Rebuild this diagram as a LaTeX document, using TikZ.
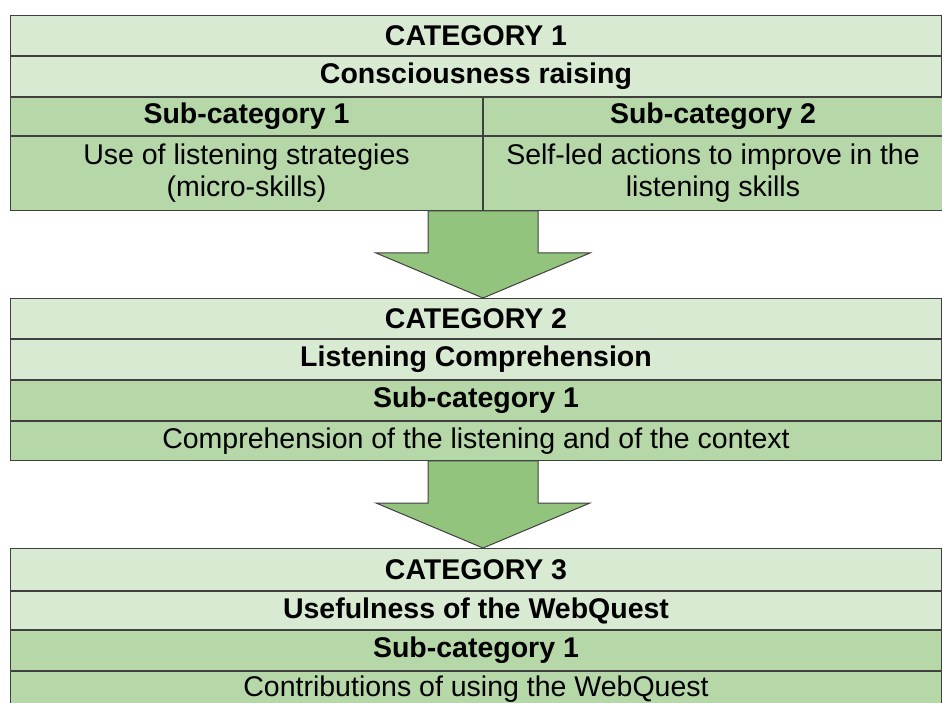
\documentclass[tikz,border=0pt]{standalone}
\usepackage{fontspec}
\setmainfont{Liberation Sans}
\usetikzlibrary{positioning,calc}
\definecolor{lightgreen}{HTML}{D9EAD3}
\definecolor{midgreen}{HTML}{B6D7A8}
\definecolor{arrowgreen}{HTML}{93C47D}
\tikzset{
  cell/.style={draw=black!75,line width=1pt,inner sep=0pt,align=center,anchor=north west,
    minimum width=931pt,font=\fontsize{28.5}{32}\selectfont},
  titlecell/.style={cell,fill=lightgreen,font=\fontsize{28.5}{32}\selectfont\bfseries},
  subcell/.style={cell,fill=midgreen,font=\fontsize{28.5}{32}\selectfont\bfseries},
  textcell/.style={cell,fill=midgreen},
  arrowbody/.style={fill=arrowgreen,draw=black!75,line width=1pt,line join=miter}
}
\newcommand\blockarrow[2]{%
  \filldraw[arrowbody] ($(#1)+(-55,0)$) -- ($(#1)+(55,0)$) -- ($(#2)+(55,45)$)
    -- ($(#2)+(107,45)$) -- (#2) -- ($(#2)+(-107,45)$) -- ($(#2)+(-55,45)$) -- cycle;}
\begin{document}
\begin{tikzpicture}[x=1pt,y=1pt]
 \useasboundingbox (0,0) rectangle (942,702);
 \clip (0,0) rectangle (942,702);
 \fill[white] (0,0) rectangle (942,702);

 % category 1
 \node[titlecell,minimum height=40pt] (cat1) at (10,687) {CATEGORY 1};
 \node[titlecell,minimum height=40pt,below=0pt of cat1.south west,anchor=north west] (name1) {Consciousness raising};
 \node[subcell,minimum height=38pt,minimum width=472pt,below=0pt of name1.south west,anchor=north west] (sub11) {Sub-category 1};
 \node[subcell,minimum height=38pt,minimum width=459pt,right=0pt of sub11.north east,anchor=north west] (sub12) {Sub-category 2};
 \node[textcell,minimum height=74pt,minimum width=472pt,below=0pt of sub11.south west,anchor=north west] (txt11) {Use of listening strategies\\(micro-skills)};
 \node[textcell,minimum height=74pt,minimum width=459pt,below=0pt of sub12.south west,anchor=north west] (txt12) {Self-led actions to improve in the\\listening skills};

 % category 2
 \node[titlecell,minimum height=40pt] (cat2) at (10,404) {CATEGORY 2};
 \node[titlecell,minimum height=40pt,below=0pt of cat2.south west,anchor=north west] (name2) {Listening Comprehension};
 \node[subcell,minimum height=40pt,below=0pt of name2.south west,anchor=north west] (sub21) {Sub-category 1};
 \node[textcell,minimum height=39pt,below=0pt of sub21.south west,anchor=north west] (txt21) {Comprehension of the listening and of the context};

 % category 3
 \node[titlecell,minimum height=42pt] (cat3) at (10,154) {CATEGORY 3};
 \node[titlecell,minimum height=38pt,below=0pt of cat3.south west,anchor=north west] (name3) {Usefulness of the WebQuest};
 \node[subcell,minimum height=40pt,below=0pt of name3.south west,anchor=north west] (sub31) {Sub-category 1};
 \node[textcell,minimum height=36pt,below=0pt of sub31.south west,anchor=north west] (txt31) {Contributions of using the WebQuest};

 % arrows between the categories
 \coordinate (top1) at (txt11.south east);
 \coordinate (tip1) at (txt11.south east |- cat2.north);
 \coordinate (top2) at (txt11.south east |- txt21.south);
 \coordinate (tip2) at (txt11.south east |- cat3.north);
 \blockarrow{top1}{tip1}
 \blockarrow{top2}{tip2}
\end{tikzpicture}
\end{document}
